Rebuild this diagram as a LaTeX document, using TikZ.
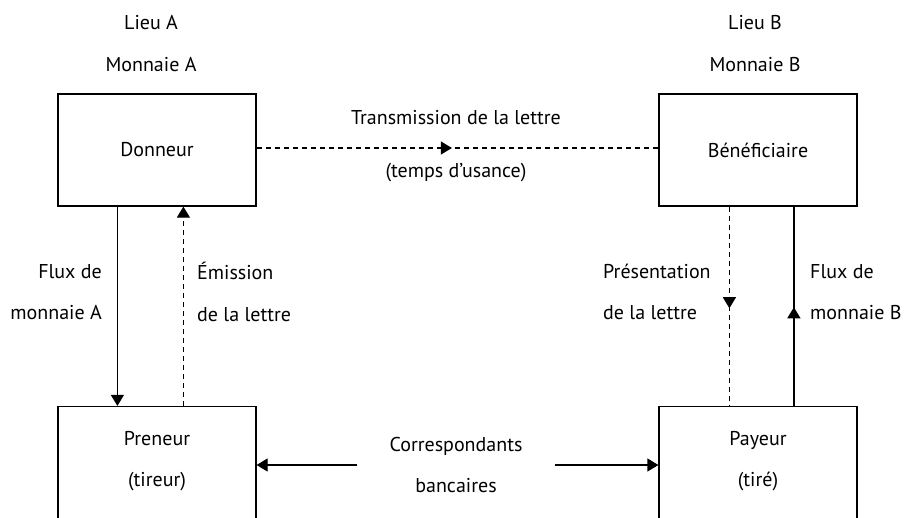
\documentclass[tikz,border=0pt]{standalone}
\usepackage{fontspec}
\setmainfont{PT Sans}
\usetikzlibrary{arrows.meta,decorations.markings,calc}
\begin{document}
\begin{tikzpicture}[x=1pt,y=-1pt,
  box/.style={draw,line width=1.2pt,minimum width=198pt,inner sep=0pt},
  txt/.style={font=\fontsize{20}{41.5}\selectfont,inner sep=0pt},
  ln/.style={line width=1.2pt},
  dsh/.style={line width=1.2pt,dash pattern=on 5pt off 4pt},
  tip/.style={-{Triangle[length=11pt,width=13pt]}},
  midtip/.style={postaction={decorate},decoration={markings,mark=at position #1 with {\arrow{Triangle[length=11pt,width=13pt]}}}}
]
\useasboundingbox (0,0) rectangle (905,517);
\fill[white] (0,0) rectangle (905,517);
\clip (0,0) rectangle (905,517);
% boxes
\node[box,minimum height=112pt] (don) at (157,150) {};
\node[box,minimum height=112pt] (ben) at (758,150) {};
\node[box,minimum height=117pt] (pre) at (157,465) {};
\node[box,minimum height=117pt] (pay) at (758,465) {};
% texts in boxes
\node[txt] (tdon) at (157,150) {Donneur};
\node[txt] (tben) at (758,150) {Bénéficiaire};
\node[txt,align=center] (tpre) at (157,461) {Preneur\\(tireur)};
\node[txt,align=center] (tpay) at (758,461) {Payeur\\(tiré)};
% headings
\node[txt,align=center] (la) at (151,43.5) {Lieu A\\Monnaie A};
\node[txt,align=center] (lb) at (755,43.5) {Lieu B\\Monnaie B};
% side labels
\node[txt,align=right,anchor=east] (fa) at (102,292) {Flux de\\monnaie A};
\node[txt,align=left,anchor=west] (ea) at (197,292) {Émission\\de la lettre};
\node[txt,align=left,anchor=west] (pb) at (603,292) {Présentation\\de la lettre};
\node[txt,align=left,anchor=west] (fb) at (810,292) {Flux de\\monnaie B};
% transmission
\node[txt] (tr) at (456,118) {Transmission de la lettre};
\node[txt] (us) at (456,173) {(temps d’usance)};
\node[txt,align=center,inner xsep=32pt] (corr) at (456,465) {Correspondants\\bancaires};
% connectors
\draw[dsh,midtip=0.486] (don.east |- 0,148) -- (ben.west |- 0,148);
\draw[ln,tip] ($(don.south west)+(60,0)$) -- ($(pre.north west)+(60,0)$);
\draw[dsh,tip] ($(pre.north west)+(126,0)$) -- ($(don.south west)+(126,0)$);
\draw[dsh,midtip=0.51] ($(ben.south west)+(71,0)$) -- ($(pay.north west)+(71,0)$);
\draw[ln,midtip=0.495] ($(pay.north west)+(135.5,0)$) -- ($(ben.south west)+(135.5,0)$);
\draw[ln,tip] (corr.west) -- (pre.east);
\draw[ln,tip] (corr.east) -- (pay.west);
\end{tikzpicture}
\end{document}
